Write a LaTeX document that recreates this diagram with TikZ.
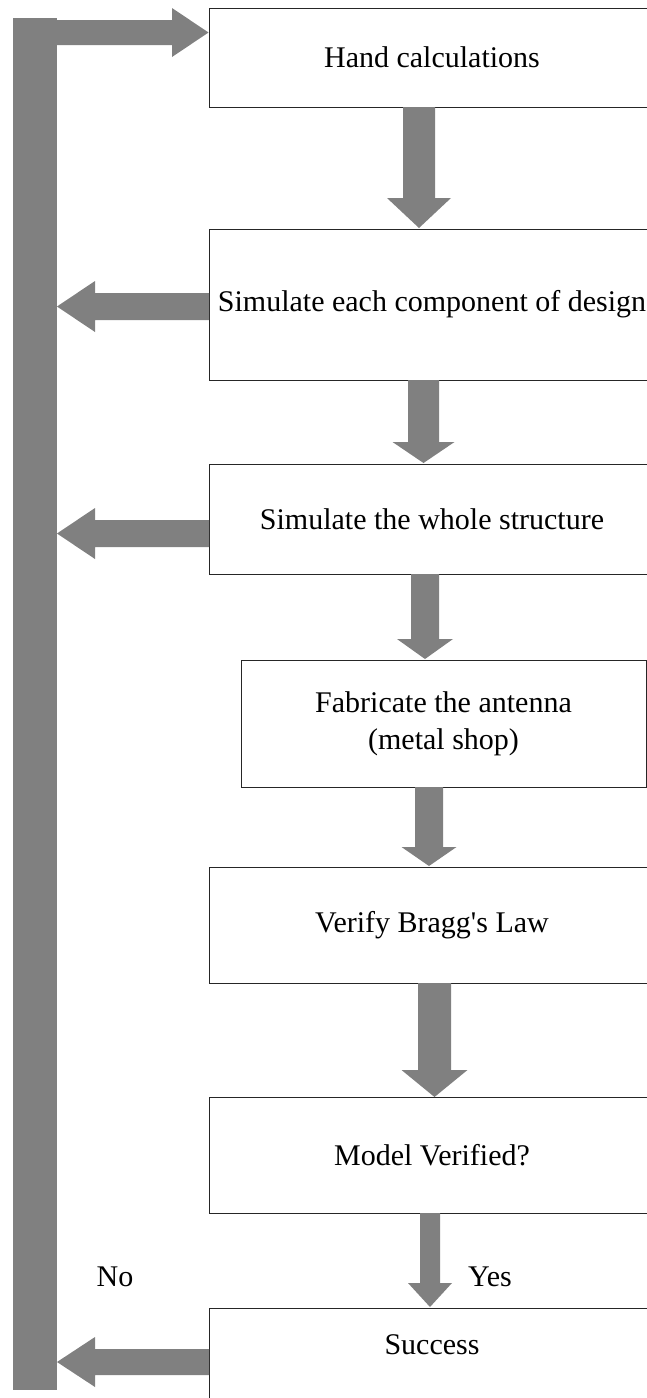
\documentclass[tikz,border=0pt]{standalone}
\usepackage{fontspec}
\setmainfont{Liberation Serif}
\tikzset{
  blk/.style={fill=black!50},
  boxstyle/.style={draw=black!85, line width=1pt, fill=white, inner sep=0pt, align=center,
    font=\fontsize{30}{37}\selectfont},
  lbl/.style={font=\fontsize{30}{37}\selectfont, inner sep=0pt}
}
\newcommand{\vArrow}[6]{% xc, ytop, ybase, ytip, halfshaft, halfhead
  \fill[blk] ({#1-#5},#2) -- ({#1+#5},#2) -- ({#1+#5},#3) -- ({#1+#6},#3) -- (#1,#4)
    -- ({#1-#6},#3) -- ({#1-#5},#3) -- cycle;}
\newcommand{\lArrow}[6]{% yc, xright, xbase, xtip, halfshaft, halfhead
  \fill[blk] (#2,{#1-#5}) -- (#2,{#1+#5}) -- (#3,{#1+#5}) -- (#3,{#1+#6}) -- (#4,#1)
    -- (#3,{#1-#6}) -- (#3,{#1-#5}) -- cycle;}
\begin{document}
\begin{tikzpicture}[x=1pt,y=-1pt]
\useasboundingbox (0,0) rectangle (647,1398);
\clip (0,0) rectangle (647,1398);
% boxes
\node[boxstyle, minimum width=446pt, minimum height=99pt] (b1) at (432,57.5) {Hand calculations};
\node[boxstyle, minimum width=446pt, minimum height=151pt] (b2) at (432,304.5) {Simulate each component of design};
\node[boxstyle, minimum width=446pt, minimum height=110pt] (b3) at (432,519) {Simulate the whole structure};
\node[boxstyle, minimum width=405pt, minimum height=127pt] (b4) at (443.5,723.5) {Fabricate the antenna\\(metal shop)};
\node[boxstyle, minimum width=446pt, minimum height=116pt] (b5) at (432,925) {Verify Bragg\textquotesingle s Law};
\node[boxstyle, minimum width=446pt, minimum height=116pt] (b6) at (432,1155) {Model Verified?};
\node[boxstyle, minimum width=446pt, minimum height=112pt] (b7) at (432,1364) {};
\node[lbl] (t7) at (432,1345) {Success};
% feedback bar
\fill[blk] (13,18) rectangle (57,1390);
% top arrow to hand calculations
\fill[blk] (57,20) -- (172,20) -- (172,8) -- (b1.west |- 0,32.5) -- (172,57) -- (172,45) -- (57,45) -- cycle;
% down arrows
\vArrow{419}{107}{198}{228}{16}{32}
\vArrow{423.5}{380}{442}{463}{15.5}{31}
\vArrow{425}{574}{639}{659}{14}{28}
\vArrow{429}{787}{847}{866}{14}{27.5}
\vArrow{434.5}{983}{1070}{1097}{16.5}{33}
\vArrow{430}{1213}{1283}{1307}{10}{22}
% left arrows to bar
\lArrow{306.5}{209}{95}{57}{13.5}{25.5}
\lArrow{533.5}{209}{95}{57}{13.5}{25.5}
\lArrow{1362}{209}{95}{57}{13}{25}
% labels
\node[lbl] (no) at (115,1277) {No};
\node[lbl] (yes) at (490,1277) {Yes};
\end{tikzpicture}
\end{document}
